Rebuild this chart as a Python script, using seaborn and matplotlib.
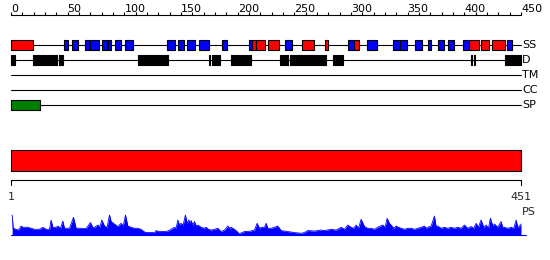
import numpy as np
import pandas as pd
import matplotlib
matplotlib.use("Agg")
import matplotlib.pyplot as plt
import seaborn as sns

# ---------------- data ----------------
seq_len = 451
track_names = ["SS", "D", "TM", "CC", "SP"]
ss_helix = [(0, 19), (212.5, 216), (216, 224), (226.5, 236.5), (257, 267.5), (277, 280),
            (302.5, 307), (404, 412.5), (414.5, 422), (424.5, 435.5)]
ss_strand = [(47, 50), (54, 59), (65, 68.5), (70, 78), (80, 84.5), (85.5, 88), (92, 97),
             (101, 107.5), (138, 145), (147.5, 152.5), (155.5, 162), (166, 175), (186, 191),
             (210, 212.5), (242, 248), (297.5, 302.5), (314, 322.5), (337, 343), (343, 349),
             (356.5, 362.5), (367.5, 370.5), (377, 382), (385.5, 391), (399, 404), (438, 442)]
disorder = [(0, 3.5), (19.5, 41), (42.5, 46), (112, 138.5), (174.5, 176), (177.5, 184),
            (194, 211.5), (237.5, 244), (246, 278), (284.5, 288.5), (289.5, 293), (406, 407),
            (408.5, 409.5), (436, 437), (438, 450)]
transmembrane = []
coiled_coil = []
signal_peptide = [(0, 25.5)]
domains = [(0, 450)]
top_ticks_major = [0, 50, 100, 150, 200, 250, 300, 350, 400, 450]
bottom_labels = ["1", "451"]

ps_pos = [1, 2, 4.5, 6.6, 9, 10.4, 14.8, 17.8, 20.7, 25.1, 28.1, 31, 34, 35.4, 36.9, 39.8, 41.3,
          43.7, 45.7, 47.2, 51.6, 55.1, 57.5, 61.9, 66.3, 70.1, 72.2, 73.7, 76.6, 78.4, 80.1,
          82.5, 84.8, 86.9, 88.4, 91.3, 94.2, 97.2, 99, 101, 103.1, 106, 109, 111.9, 114.8,
          117.2, 119.2, 123.7, 126.6, 128.1, 130.1, 132.5, 135.4, 138.4, 141.3, 144.2, 145.7,
          147.2, 148.6, 150.1, 151.9, 153.9, 155.4, 156.9, 158.1, 158.9, 160.4, 161.9, 163.4,
          164.8, 167.8, 170.1, 172.2, 174.2, 176.6, 179.5, 182.5, 185.4, 188.4, 191.3, 192.8,
          194.2, 197.2, 199.5, 201.6, 203.7, 206, 210.4, 214.8, 217.2, 219.2, 220.7, 223.6,
          225.1, 226.6, 229.5, 232.5, 235.4, 238.3, 244.2, 250.1, 256, 258.9, 261.9, 267.7,
          273.6, 276.6, 282.4, 286.9, 291.3, 294.2, 297.1, 300.1, 302.4, 304.5, 306.6, 308.9,
          311.9, 314.8, 317.7, 320.7, 323.6, 328, 330.1, 331.9, 333.9, 335.4, 337.7, 339.8,
          341.9, 344.2, 347.1, 350.1, 353, 356, 358.9, 361.9, 364.8, 366.3, 367.7, 370.7,
          373.6, 375.1, 376.6, 379.5, 382.4, 385.4, 388.3, 391.3, 394.2, 397.1, 400.1, 403,
          406, 408.3, 410.4, 412.4, 414.8, 417.1, 419.2, 421.3, 423, 425.1, 426.6, 429.5,
          432.4, 433.9, 435.4, 438.3, 441.3, 443.6, 445.7, 447.1, 448.6, 450]
ps_score = [0.81, 0.28, 0.24, 0.21, 0.37, 0.32, 0.32, 0.28, 0.24, 0.24, 0.32, 0.24, 0.24, 0.61,
            0.32, 0.32, 0.37, 0.28, 0.57, 0.28, 0.28, 0.72, 0.28, 0.28, 0.27, 0.51, 0.32, 0.32,
            0.41, 0.32, 0.61, 0.37, 0.32, 0.81, 0.55, 0.45, 0.35, 0.48, 0.37, 0.81, 0.37, 0.32,
            0.28, 0.28, 0.24, 0.15, 0.11, 0.11, 0.11, 0.19, 0.15, 0.15, 0.15, 0.17, 0.24, 0.32,
            0.28, 0.61, 0.41, 0.48, 0.41, 0.81, 0.48, 0.61, 0.48, 0.59, 0.41, 0.55, 0.37, 0.41,
            0.32, 0.28, 0.32, 0.24, 0.21, 0.24, 0.28, 0.15, 0.21, 0.37, 0.28, 0.32, 0.24, 0.15,
            0.05, 0.11, 0.15, 0.16, 0.21, 0.48, 0.28, 0.32, 0.32, 0.48, 0.28, 0.28, 0.32, 0.37,
            0.19, 0.15, 0.11, 0.08, 0.11, 0.19, 0.17, 0.21, 0.19, 0.24, 0.21, 0.32, 0.24, 0.41,
            0.32, 0.28, 0.41, 0.28, 0.64, 0.35, 0.28, 0.28, 0.24, 0.32, 0.41, 0.32, 0.68, 0.48,
            0.41, 0.28, 0.37, 0.32, 0.28, 0.24, 0.28, 0.28, 0.24, 0.28, 0.32, 0.37, 0.28, 0.32,
            0.37, 0.77, 0.35, 0.37, 0.28, 0.32, 0.28, 0.32, 0.28, 0.32, 0.28, 0.41, 0.28, 0.35,
            0.28, 0.48, 0.32, 0.61, 0.32, 0.41, 0.28, 0.68, 0.37, 0.45, 0.32, 0.55, 0.32, 0.32,
            0.28, 0.32, 0.28, 0.61, 0.32, 0.37, 0.45]

# ---------------- figure ----------------
sns.set_theme(style="white")
plt.rcParams["font.family"] = ["DejaVu Sans"]
W, H = 550, 260
fig = plt.figure(figsize=(W / 100, H / 100), dpi=100)
fig.patch.set_facecolor("white")

PX = 510 / 450.0
XL = (-11 / PX, (W - 11) / PX)
LW = 0.8
FS = 8.0


def band(y0, y1):
    ax = fig.add_axes([0, 1 - y1 / H, 1, (y1 - y0) / H])
    ax.set_xlim(*XL)
    ax.set_axis_off()
    return ax


# top ruler (y in pixel units)
ax_top = band(0, 20)
ax_top.set_ylim(20, 0)
ax_top.plot([0, 450], [15, 15], color="black", lw=LW)
ax_top.vlines(np.arange(0, 451, 10), 12.3, 15, color="black", lw=LW)
for t in top_ticks_major:
    ax_top.text(t, 12, str(t), ha="left", va="baseline", fontsize=FS, color="black")

# feature tracks
ax_tr = band(30, 120)
ax_tr.set_ylim(5, -1)
half = 0.34
track_feats = {
    "SS": [(ss_helix, "#ff0000"), (ss_strand, "#0000ff")],
    "D": [(disorder, "#000000")],
    "TM": [(transmembrane, "#808080")],
    "CC": [(coiled_coil, "#808080")],
    "SP": [(signal_peptide, "#008000")],
}
for i, name in enumerate(track_names):
    ax_tr.plot([0, 450], [i, i], color="black", lw=LW, zorder=1)
    for segs, col in track_feats[name]:
        if segs:
            ax_tr.broken_barh([(a, b - a) for a, b in segs], (i - half, 2 * half),
                              facecolors=col, edgecolors="black", linewidth=LW, zorder=2)
    ax_tr.text(450.8, i, name, ha="left", va="center", fontsize=FS, color="black")

# domain bar
ax_dom = band(145, 175)
ax_dom.set_ylim(175, 145)
ax_dom.broken_barh([(a, b - a) for a, b in domains], (150.3, 20.3),
                   facecolors="#ff0000", edgecolors="black", linewidth=LW)

# bottom ruler
ax_bot = band(175, 220)
ax_bot.set_ylim(220, 175)
ax_bot.plot([0, 0, 450, 450], [185, 180, 180, 185], color="black", lw=LW)
ax_bot.text(0, 200, bottom_labels[0], ha="center", va="baseline", fontsize=FS)
ax_bot.text(450, 200, bottom_labels[1], ha="center", va="baseline", fontsize=FS)
ax_bot.text(450.5, 215, "PS", ha="left", va="baseline", fontsize=FS)

# PS profile
ax_ps = band(205, 240)
base = 0.0
ax_ps.set_ylim(-4.7 / 25, (235.3 - 205) / 25)
ps_df = pd.DataFrame({"pos": ps_pos, "score": ps_score})
ax_ps.fill_between(ps_df["pos"], base, ps_df["score"], color="#0000ff", lw=0)
sns.lineplot(data=ps_df, x="pos", y="score", ax=ax_ps, color="#0000ff", lw=0.6)
ax_ps.plot([0, 454], [base, base], color="#0000ff", lw=LW)
ax_ps.set_axis_off()

fig.savefig("out.png", dpi=100, facecolor="white")
